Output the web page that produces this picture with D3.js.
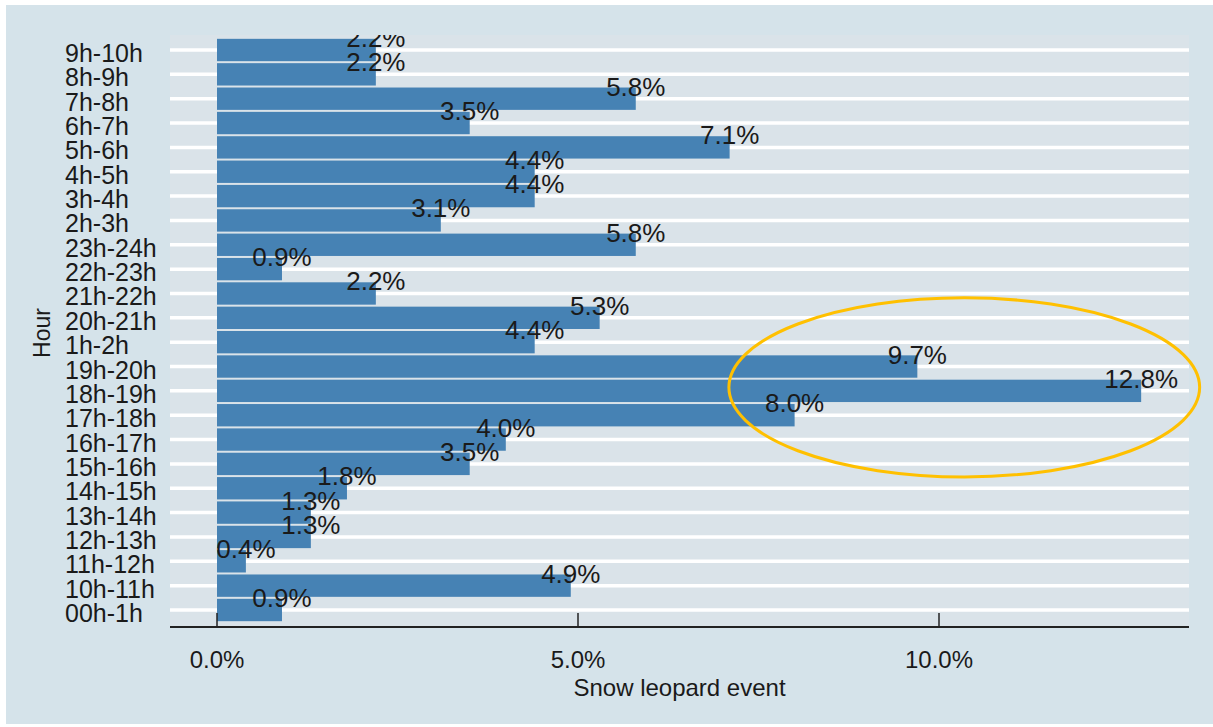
<!DOCTYPE html>
<html>
<head>
<meta charset="utf-8">
<script src="https://cdn.jsdelivr.net/npm/d3@7"></script>
<style>
  html, body { margin: 0; padding: 0; background: #ffffff; }
  svg { display: block; }
  text { font-family: "Liberation Sans", Arial, sans-serif; fill: #1a1a1a; }
</style>
</head>
<body>
<svg id="chart" width="1213" height="727"></svg>
<script>
// ---- data ----
const categories = ["9h-10h","8h-9h","7h-8h","6h-7h","5h-6h","4h-5h","3h-4h","2h-3h",
  "23h-24h","22h-23h","21h-22h","20h-21h","1h-2h","19h-20h","18h-19h","17h-18h",
  "16h-17h","15h-16h","14h-15h","13h-14h","12h-13h","11h-12h","10h-11h","00h-1h"];
const values = [2.2,2.2,5.8,3.5,7.1,4.4,4.4,3.1,
  5.8,0.9,2.2,5.3,4.4,9.7,12.8,8.0,
  4.0,3.5,1.8,1.3,1.3,0.4,4.9,0.9];
const xTicks = [0, 5, 10];
const xTickLabels = ["0.0%", "5.0%", "10.0%"];
const xTitle = "Snow leopard event";
const yTitle = "Hour";
// highlight annotation (in data units)
const highlightCenterValue = [10.35];
const highlightCategory = ["18h-19h"];

// ---- layout ----
const W = 1213, H = 727;
const plotL = 170, plotR = 1189, plotT = 35, axisY = 627;
const svg = d3.select("#chart");

svg.append("rect").attr("x", 6).attr("y", 5).attr("width", W - 6).attr("height", H - 8)
  .attr("fill", "#d5e3ea");
svg.append("rect").attr("x", plotL).attr("y", plotT).attr("width", plotR - plotL).attr("height", axisY - plotT)
  .attr("fill", "#dae3e9");

const x = d3.scaleLinear().domain([0, 10]).range([217, 939]);
const y = d3.scalePoint().domain(categories).range([50, 610]);
const step = y.step();
const barH = step - 2;

// gridlines
svg.append("g").selectAll("line").data(categories).join("line")
  .attr("x1", plotL).attr("x2", plotR)
  .attr("y1", d => y(d)).attr("y2", d => y(d))
  .attr("stroke", "#ffffff").attr("stroke-width", 3.5);

// bars
const data = categories.map((c, i) => ({ c, v: values[i] }));
svg.append("g").selectAll("rect").data(data).join("rect")
  .attr("x", x(0))
  .attr("y", d => y(d.c) - barH / 2)
  .attr("width", d => x(d.v) - x(0))
  .attr("height", barH)
  .attr("fill", "#4682b4");

// clip for labels
svg.append("clipPath").attr("id", "plotclip")
  .append("rect").attr("x", 0).attr("y", plotT).attr("width", W).attr("height", H - plotT);

svg.append("g").attr("clip-path", "url(#plotclip)")
  .selectAll("text").data(data).join("text")
  .attr("x", d => x(d.v))
  .attr("y", d => y(d.c) - 3)
  .attr("text-anchor", "middle")
  .style("font-size", "26px")
  .text(d => d.v.toFixed(1) + "%");

// x axis
svg.append("line").attr("x1", plotL).attr("x2", plotR).attr("y1", axisY).attr("y2", axisY)
  .attr("stroke", "#222").attr("stroke-width", 2);
svg.append("g").selectAll("line").data(xTicks).join("line")
  .attr("x1", d => x(d)).attr("x2", d => x(d))
  .attr("y1", axisY).attr("y2", axisY - 14)
  .attr("stroke", "#222").attr("stroke-width", 1.5);
svg.append("g").selectAll("text").data(xTicks).join("text")
  .attr("x", d => x(d)).attr("y", 668)
  .attr("text-anchor", "middle")
  .style("font-size", "24px")
  .text((d, i) => xTickLabels[i]);
svg.append("text").attr("x", (plotL + plotR) / 2).attr("y", 696)
  .attr("text-anchor", "middle").style("font-size", "24px").text(xTitle);

// y axis labels
svg.append("g").selectAll("text").data(categories).join("text")
  .attr("x", 65).attr("y", d => y(d) + 12)
  .attr("text-anchor", "start")
  .style("font-size", "25px")
  .text(d => d);
svg.append("text").attr("transform", "translate(50,333) rotate(-90)")
  .attr("text-anchor", "middle").style("font-size", "23px").text(yTitle);

// highlight ellipse
svg.append("ellipse")
  .attr("cx", x(highlightCenterValue[0]))
  .attr("cy", y(highlightCategory[0]) - 3.5)
  .attr("rx", x(3.26) - x(0))
  .attr("ry", step * 3.68)
  .attr("fill", "none")
  .attr("stroke", "#ffc000")
  .attr("stroke-width", 3);
</script>
</body>
</html>
